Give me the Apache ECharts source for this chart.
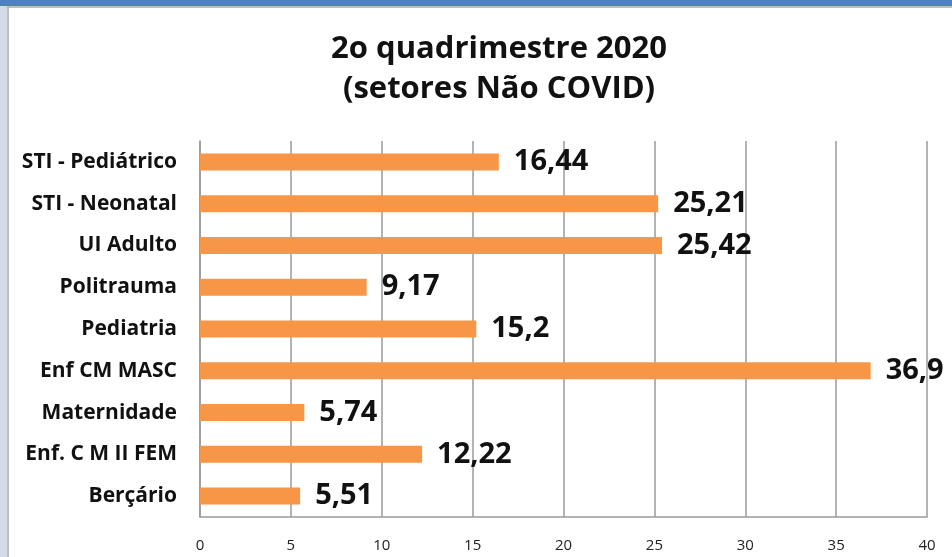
<!DOCTYPE html>
<html><head><meta charset="utf-8">
<script src="https://cdn.jsdelivr.net/npm/echarts@6/dist/echarts.min.js"></script>
<style>html,body{margin:0;padding:0;background:#fff}#c{width:952px;height:557px}</style>
</head><body><div id="c"></div>
<script>
const categories = ["STI - Pediátrico","STI - Neonatal","UI Adulto","Politrauma","Pediatria","Enf CM MASC","Maternidade","Enf. C M II FEM","Berçário"];
const values = [16.44, 25.21, 25.42, 9.17, 15.2, 36.9, 5.74, 12.22, 5.51];
const labels = ["16,44","25,21","25,42","9,17","15,2","36,9","5,74","12,22","5,51"];
const titleText = "2o quadrimestre 2020\n(setores Não COVID)";

const chart = echarts.init(document.getElementById('c'));
const font = "'Open Sans', Lato, sans-serif";
chart.setOption({
  animation: false,
  backgroundColor: '#fff',
  title: {
    text: titleText, left: 494, top: 24, textAlign: 'center',
    textStyle: {fontFamily: font, fontWeight: 'bold', fontSize: 31, lineHeight: 40, color: '#111'}
  },
  grid: {left: 200, right: 25, top: 141, bottom: 40},
  xAxis: {
    type: 'value', min: 0, max: 40, interval: 5,
    axisLine: {show: true, lineStyle: {color: '#9a9a9a', width: 1.5}},
    axisTick: {show: false},
    splitLine: {lineStyle: {color: '#9a9a9a', width: 1.5}},
    axisLabel: {margin: 21, fontFamily: font, fontSize: 15, color: '#222'}
  },
  yAxis: {
    type: 'category', data: categories.slice().reverse(),
    axisLine: {show: true, lineStyle: {color: '#9a9a9a', width: 1.5}},
    axisTick: {show: false},
    axisLabel: {margin: 23, fontFamily: font, fontWeight: 'bold', fontSize: 21, color: '#111'}
  },
  series: [{
    type: 'bar', barWidth: 17,
    data: values.slice().reverse(),
    itemStyle: {color: '#f79646'},
    label: {
      show: true, position: 'right', distance: 15,
      formatter: p => labels[categories.length - 1 - p.dataIndex],
      fontFamily: font, fontWeight: 'bold', fontSize: 29, color: '#111'
    }
  }],
  graphic: [
    {type: 'rect', shape: {x: 0, y: 0, width: 952, height: 6}, style: {fill: '#4f81bd'}},
    {type: 'rect', shape: {x: 0, y: 6, width: 7, height: 551}, style: {fill: '#d3dbe9'}},
    {type: 'line', shape: {x1: 7, y1: 7, x2: 952, y2: 7}, style: {stroke: '#a8a8a8', lineWidth: 1.5}},
    {type: 'line', shape: {x1: 8, y1: 7, x2: 8, y2: 557}, style: {stroke: '#a8a8a8', lineWidth: 1.5}}
  ]
});
</script></body></html>
